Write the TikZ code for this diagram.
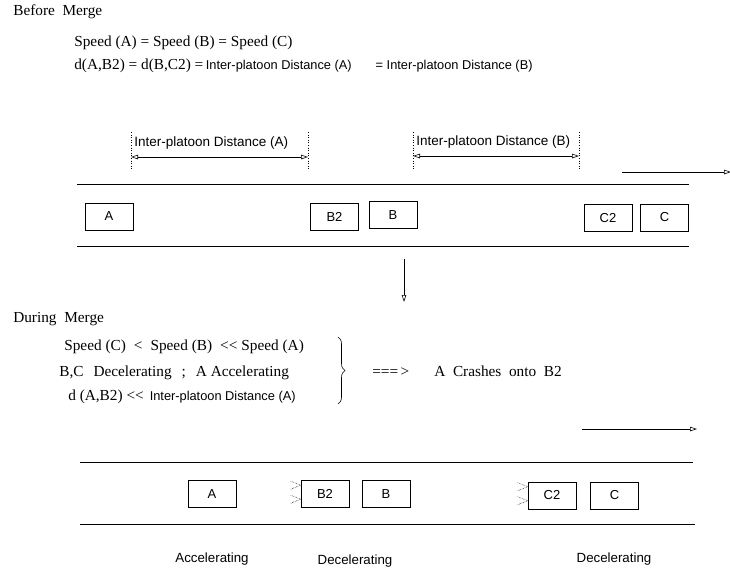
\documentclass[tikz,border=0pt]{standalone}
\usepackage{fontspec}
\setmainfont{Liberation Serif}
\setsansfont{Liberation Sans}
\usetikzlibrary{arrows.meta,positioning,calc,decorations.pathreplacing}

\tikzset{
  car/.style={draw, minimum width=48pt, minimum height=27pt, inner sep=0pt, font=\sffamily\fontsize{13}{15}\selectfont},
  serif/.style={font=\fontsize{15.3}{17}\selectfont, inner sep=0pt, anchor=base west},
  sans/.style={font=\sffamily\fontsize{13.5}{15}\selectfont, inner sep=0pt, anchor=base west},
  motion/.style={font=\sffamily\fontsize{13.3}{15}\selectfont, inner sep=0pt},
  dimline/.style={dotted, line width=0.6pt},
  dimarrow/.style={{Triangle[open,length=7pt,width=4.5pt]}-{Triangle[open,length=7pt,width=4.5pt]}},
  fwd/.style={-{Triangle[open,length=7pt,width=4.5pt]}},
  push/.style={densely dotted, line width=0.5pt}
}
\newcommand{\smallsans}{\sffamily\fontsize{12.8}{14}\selectfont}

\begin{document}
\begin{tikzpicture}[x=1pt, y=-1pt, line width=0.6pt]
  \useasboundingbox (0,0) rectangle (730,571);

  % Before merge
  \node[serif] (before) at (13,15) {Before\ \ Merge};
  \node[serif] (eqspeed) at (74,46) {Speed (A) = Speed (B) = Speed (C)};
  \node[serif] (eqdist) at (74,69) {d(A,B2) = d(B,C2) =\,{\smallsans Inter-platoon Distance (A)\hspace{24pt}= Inter-platoon Distance (B)}};

  % Inter-platoon distances
  \draw[dimline] (131,132) -- (131,170);
  \draw[dimline] (308,132) -- (308,170);
  \coordinate (dA1) at (131,157);
  \coordinate (dA2) at (308,157);
  \draw[dimarrow] (dA1) -- (dA2);
  \node[sans] (distA) at (134,146) {Inter-platoon Distance (A)};

  \draw[dimline] (413,132) -- (413,170);
  \draw[dimline] (579,132) -- (579,170);
  \coordinate (dB1) at (413,156);
  \coordinate (dB2) at (579,156);
  \draw[dimarrow] (dB1) -- (dB2);
  \node[sans] (distB) at (416,145) {Inter-platoon Distance (B)};

  % Direction of travel
  \coordinate (dir1s) at (622,172);
  \coordinate (dir1e) at (731,172);
  \draw[fwd] (dir1s) -- (dir1e);

  % Road and vehicles
  \draw (77,184) -- (689,184);
  \draw (77,246) -- (689,246);
  \node[car] (A1) at (109,216.5) {A};
  \node[car] (B21) at (334.5,216.5) {B2};
  \node[car] (B1) at (393,215) {B};
  \node[car] (C21) at (608,218) {C2};
  \node[car] (C1) at (664.5,217.5) {C};

  % Transition
  \coordinate (down1) at (404,259);
  \coordinate (down2) at (404,302);
  \draw[fwd] (down1) -- (down2);

  % During merge
  \node[serif] (during) at (13,322) {During\ \ Merge};
  \node[serif] (cond1) at (64,350) {Speed (C)\hspace{8pt}<\hspace{8pt}Speed (B)\hspace{8pt}<{}<\hspace{4pt}Speed (A)};
  \node[serif] (cond2) at (59,376) {B,C\hspace{10pt}Decelerating\hspace{10pt};\hspace{10pt}A Accelerating};
  \node[serif] (cond3) at (68,400) {d (A,B2)\ <{}<\hspace{6pt}{\smallsans Inter-platoon Distance (A)}};
  \draw[decorate, decoration={brace, amplitude=7pt}] (338,337) -- (338,404);
  \node[serif] (impl) at (372,376) {===\,>};
  \node[serif] (crash) at (434,376) {A\ \ Crashes\ \ onto\ \ B2};

  % Direction of travel
  \coordinate (dir2s) at (582,429);
  \coordinate (dir2e) at (697,429);
  \draw[fwd] (dir2s) -- (dir2e);

  % Road and vehicles
  \draw (80,462) -- (693,462);
  \draw (80,524) -- (695,524);
  \node[car] (A2) at (212,494) {A};
  \node[car] (B22) at (325,494) {B2};
  \node[car] (B2) at (386,494) {B};
  \node[car] (C22) at (552,495.5) {C2};
  \node[car] (C2) at (614.5,495.5) {C};

  % Braking marks
  \foreach \car in {B22, C22} {
    \foreach \dy in {5, 19} {
      \draw[push] ($(\car.north west)+(-10,\dy-4)$) -- ($(\car.north west)+(0,\dy)$) -- ($(\car.north west)+(-10,\dy+4)$);
    }
  }

  \node[motion] (accA) at (212,559) {Accelerating};
  \node[motion] (decB) at (355,561) {Decelerating};
  \node[motion] (decC) at (614,559) {Decelerating};
\end{tikzpicture}
\end{document}
